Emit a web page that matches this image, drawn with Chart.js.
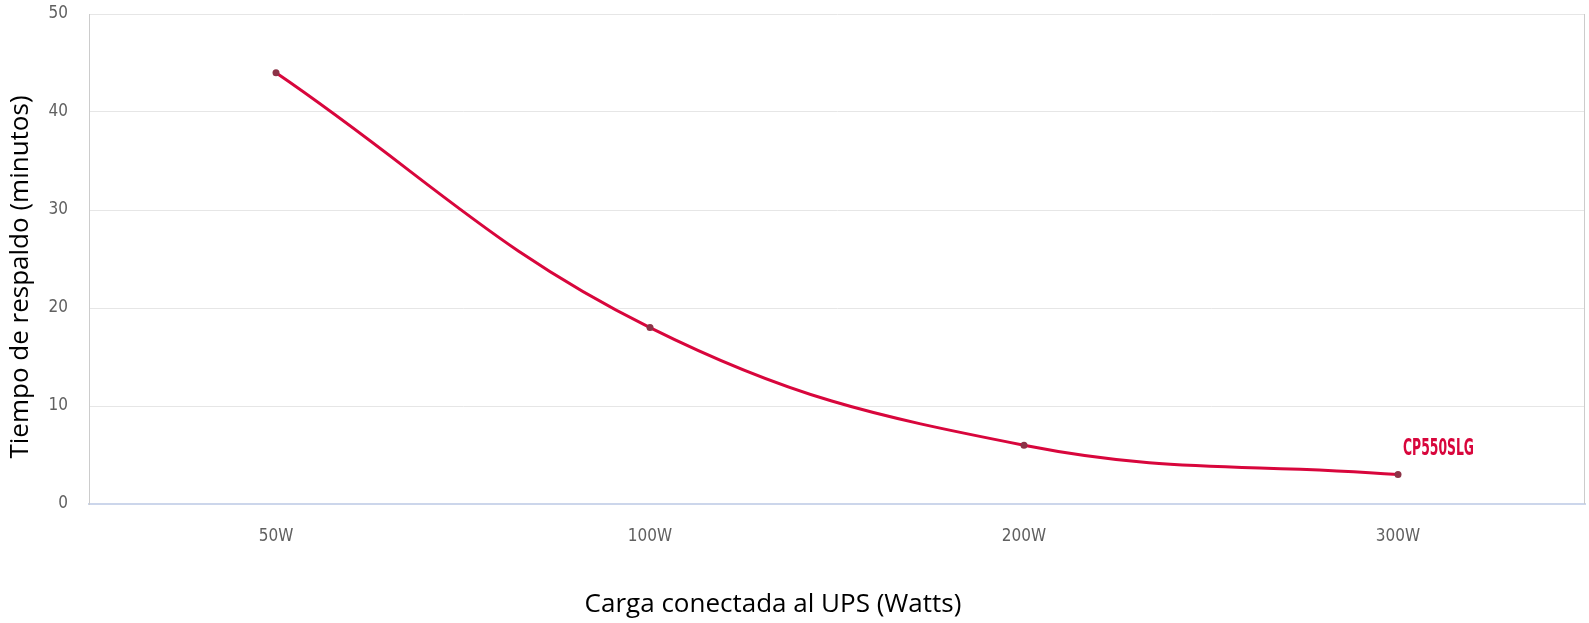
<!DOCTYPE html>
<html>
<head>
<meta charset="utf-8">
<script src="https://cdn.jsdelivr.net/npm/chart.js@4/dist/chart.umd.min.js"></script>
<style>
  html, body { margin: 0; padding: 0; background: #fff; }
  #wrap { width: 1589px; height: 623px; }
</style>
</head>
<body>
<div id="wrap"><canvas id="upsChart" width="1589" height="623"></canvas></div>
<script>
const cargas = ["50W", "100W", "200W", "300W"];
const minutos = [44, 18, 6, 3];
const yTicks = [0, 10, 20, 30, 40, 50];
const serieNombre = "CP550SLG";
const tituloX = "Carga conectada al UPS (Watts)";
const tituloY = "Tiempo de respaldo (minutos)";

const narrow = "'DejaVu Sans Condensed', 'Liberation Sans Narrow', sans-serif";
const rojo = "#d8063c";

// borde derecho, etiqueta del modelo y títulos de ejes (desplazados como en el original)
const extras = {
  id: "extras",
  afterDatasetsDraw(chart) {
    const ctx = chart.ctx;
    const a = chart.chartArea;
    ctx.save();
    ctx.strokeStyle = "#cccccc";
    ctx.lineWidth = 1;
    ctx.beginPath();
    ctx.moveTo(a.right - 0.5, a.top);
    ctx.lineTo(a.right - 0.5, a.bottom);
    ctx.stroke();

    const pts = chart.getDatasetMeta(0).data;
    const last = pts[pts.length - 1];
    ctx.fillStyle = rojo;
    ctx.font = "bold 23px 'DejaVu Sans', sans-serif";
    ctx.textAlign = "left";
    ctx.textBaseline = "middle";
    const w = ctx.measureText(serieNombre).width;
    const k = 71 / w;
    ctx.translate(last.x + 5, last.y - 26);
    ctx.scale(k, 1);
    ctx.fillText(serieNombre, 0, 0);
    ctx.restore();

    ctx.save();
    ctx.fillStyle = "#000";
    ctx.font = "26px 'Open Sans', sans-serif";
    ctx.textAlign = "center";
    ctx.textBaseline = "middle";
    ctx.fillText(tituloX, 773, 605);
    ctx.translate(21, 277);
    ctx.rotate(-Math.PI / 2);
    ctx.fillText(tituloY, 0, 0);
    ctx.restore();
  }
};

new Chart(document.getElementById("upsChart"), {
  type: "line",
  data: {
    labels: cargas,
    datasets: [{
      label: serieNombre,
      data: minutos,
      borderColor: rojo,
      borderWidth: 3,
      tension: 0.4,
      pointRadius: 3.5,
      pointBackgroundColor: "#8c3347",
      pointBorderColor: "#8c3347",
      pointBorderWidth: 0,
      fill: false
    }]
  },
  options: {
    responsive: false,
    animation: false,
    layout: { padding: { top: 0, right: 2, left: 0, bottom: 0 } },
    plugins: { legend: { display: false }, tooltip: { enabled: false } },
    scales: {
      x: {
        offset: true,
        grid: { drawOnChartArea: false, drawTicks: false },
        border: { color: "#ccd6eb", width: 2 },
        ticks: { color: "#606060", font: { family: narrow, size: 17 }, padding: 22 },
        title: { display: false, text: tituloX },
        afterFit: s => { s.height = 119; }
      },
      y: {
        min: 0,
        max: 50,
        afterBuildTicks: s => { s.ticks = yTicks.map(v => ({ value: v })); },
        grid: { color: "#e6e6e6", drawTicks: false },
        border: { color: "#cccccc", width: 1 },
        ticks: { color: "#606060", font: { family: narrow, size: 17 }, padding: 21 },
        title: { display: false, text: tituloY },
        afterFit: s => { s.width = 89; s.paddingTop = 14; s.paddingBottom = 0; }
      }
    }
  },
  plugins: [extras]
});
</script>
</body>
</html>
